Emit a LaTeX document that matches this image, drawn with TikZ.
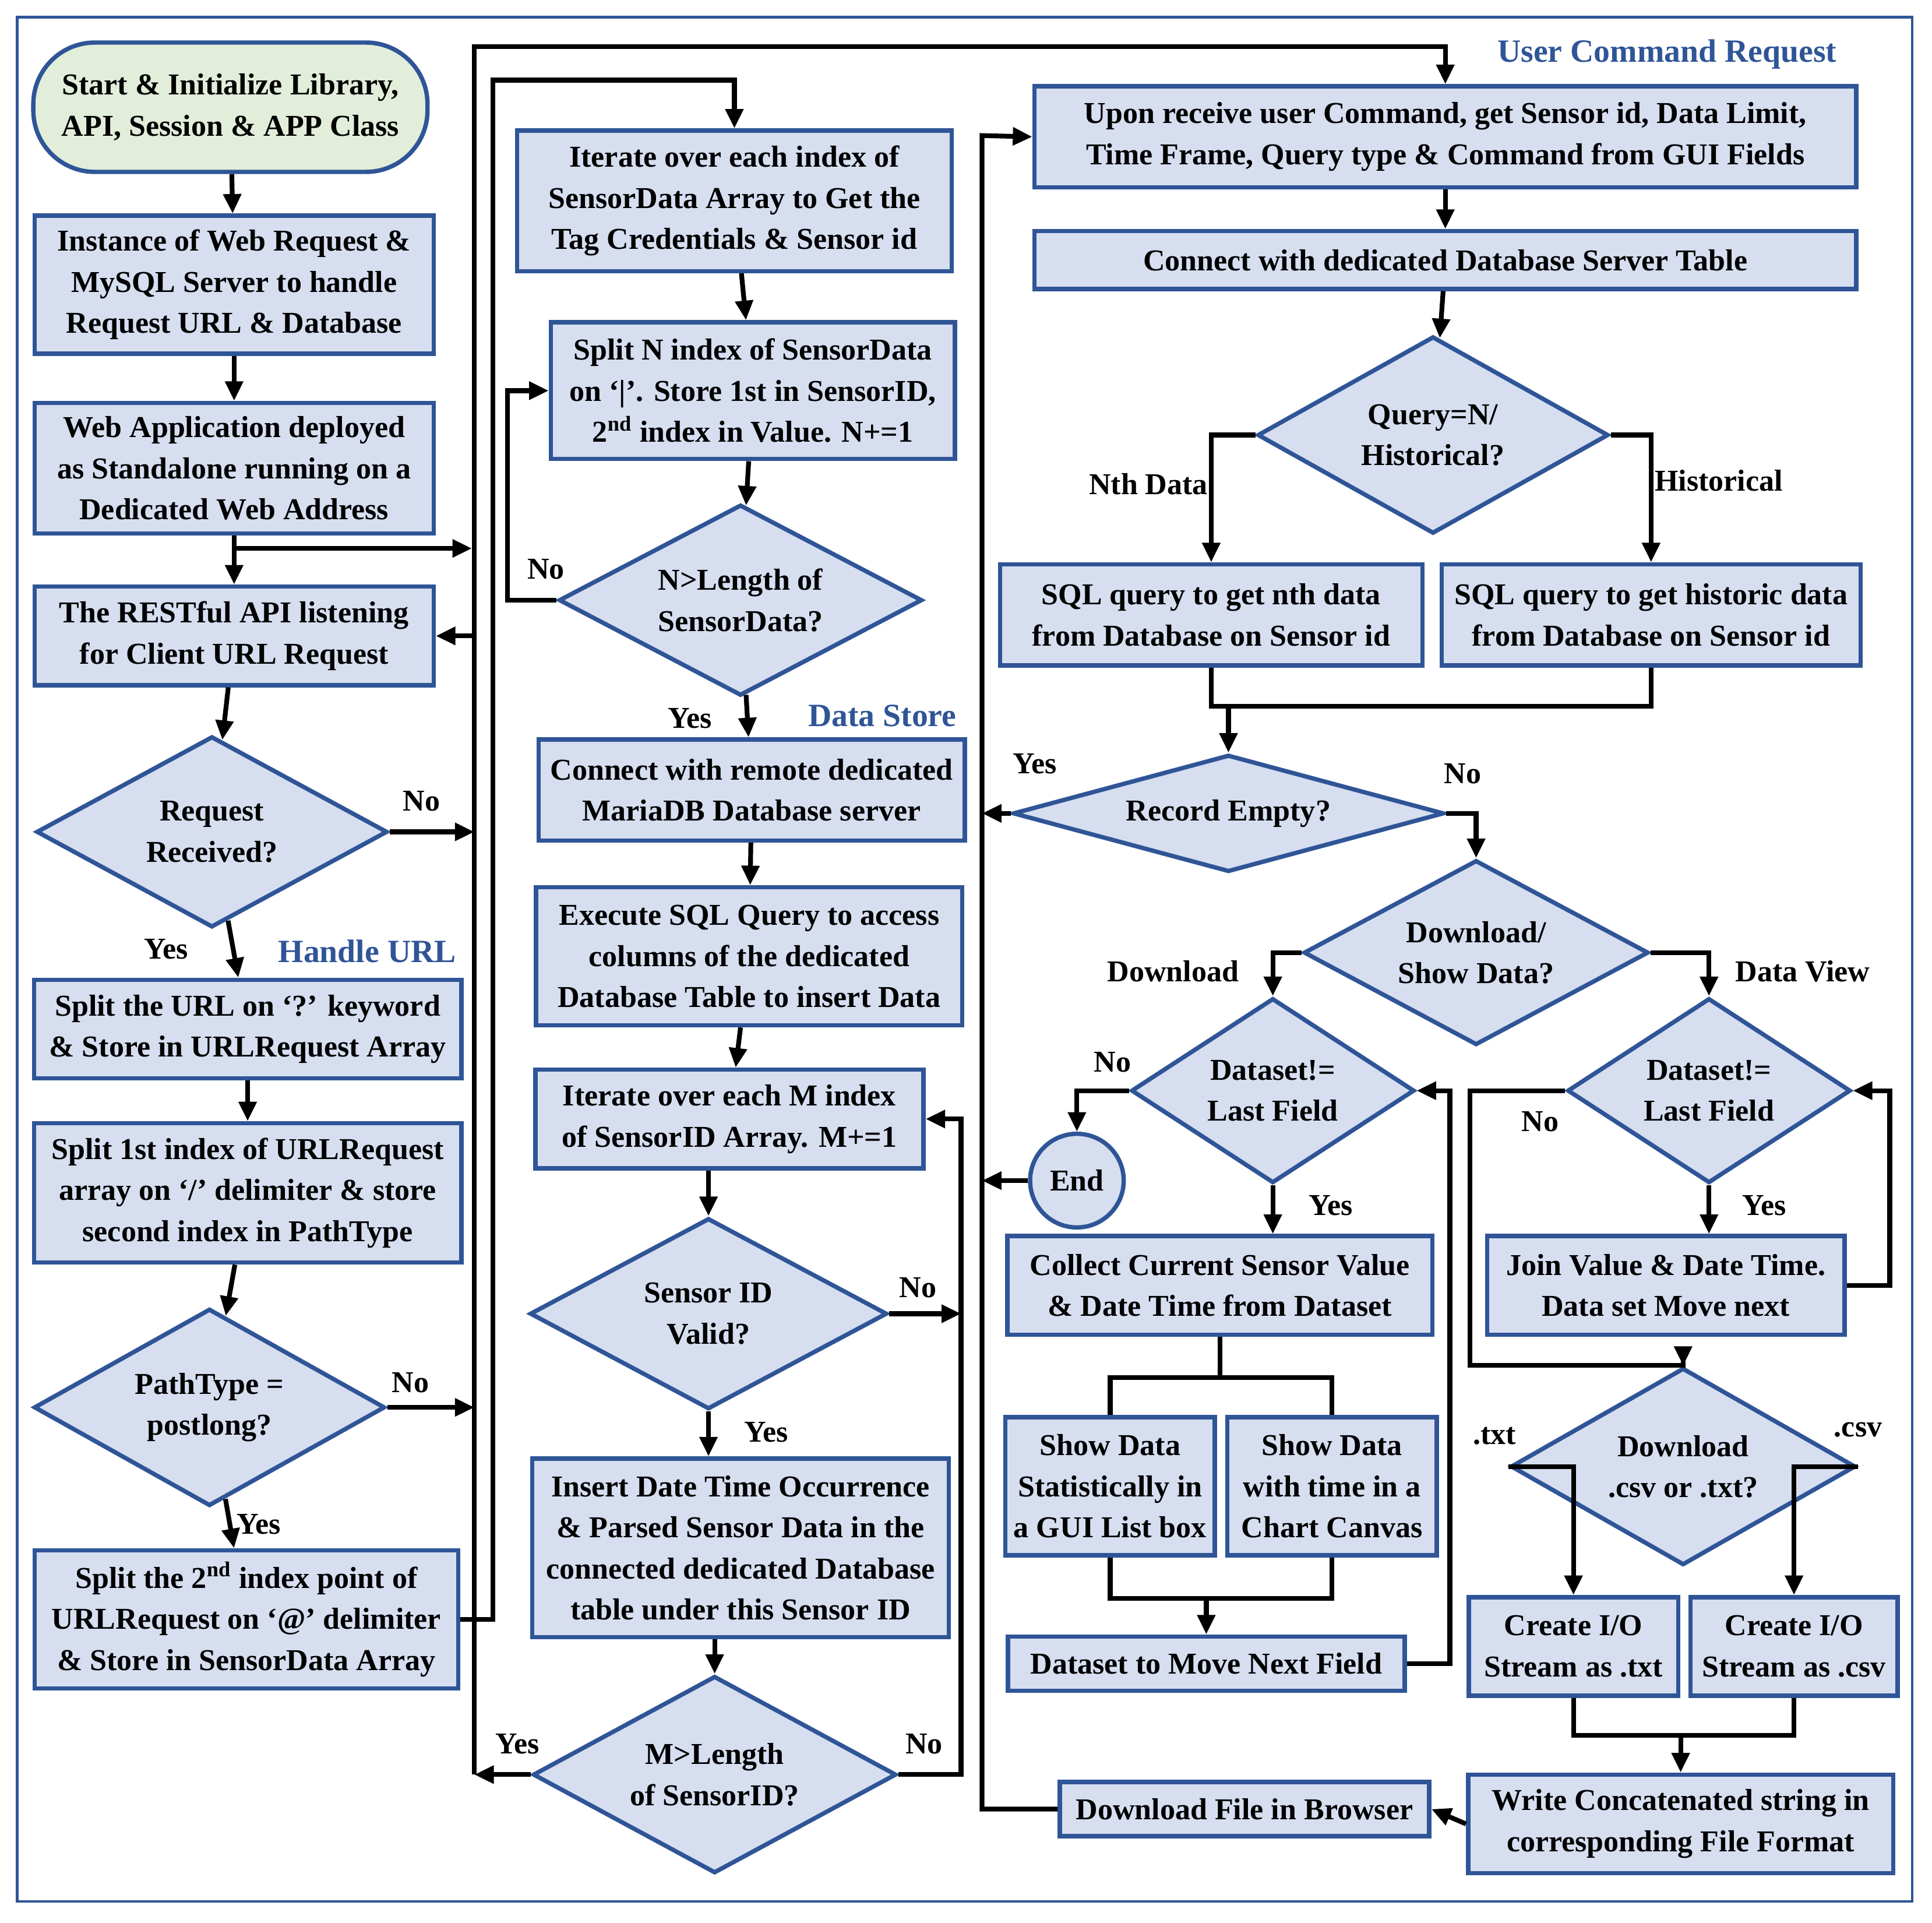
\documentclass[tikz,border=0pt]{standalone}
\usepackage{fontspec}
\setmainfont{Liberation Serif}
\usetikzlibrary{shapes.geometric,arrows.meta}
\definecolor{bblue}{RGB}{47,85,151}
\definecolor{bfill}{RGB}{214,222,240}
\definecolor{sfill}{RGB}{226,238,218}
\newcommand\fs{\fontsize{14}{19}\selectfont\bfseries}
\begin{document}
\begin{tikzpicture}[x=0.02cm,y=-0.02cm,
  box/.style={draw=bblue,fill=bfill,line width=2pt,align=center,inner sep=0pt,font=\fs},
  dia/.style={diamond,draw=bblue,fill=bfill,line width=2pt,align=center,inner sep=0pt,aspect=1.9,font=\fs},
  lab/.style={font=\fs},
  ttl/.style={font=\fontsize{15}{18}\selectfont\bfseries,text=bblue},
  line/.style={line width=2.2pt},
  arr/.style={line,-{Triangle[length=9pt,width=8pt]}}]
\useasboundingbox (0,0) rectangle (1568,1560);
\draw[bblue,line width=1.2pt] (14,14) rectangle (1552,1543);

% first column
\node[box,fill=sfill,rounded corners=1cm,minimum width=6.4cm,minimum height=2.1cm] (start) at (187,87) {Start \& Initialize Library,\\API, Session \& APP Class};
\node[box,minimum width=6.48cm,minimum height=2.24cm] (inst) at (190,231) {Instance of Web Request \&\\MySQL Server to handle\\Request URL \& Database};
\node[box,minimum width=6.48cm,minimum height=2.12cm] (web) at (190,380) {Web Application deployed\\as Standalone running on a\\Dedicated Web Address};
\node[box,minimum width=6.48cm,minimum height=1.6cm] (rest) at (190,516) {The RESTful API listening\\for Client URL Request};
\node[dia,minimum width=5.7cm,minimum height=3.1cm] (req) at (172,675) {Request\\Received?};
\node[box,minimum width=6.94cm,minimum height=1.6cm] (split1) at (201,835) {Split the URL on ‘?’ keyword\\\& Store in URLRequest Array};
\node[box,minimum width=6.94cm,minimum height=2.26cm] (split2) at (201,968) {Split 1st index of URLRequest\\array on ‘/’ delimiter \& store\\second index in PathType};
\node[dia,minimum width=5.7cm,minimum height=3.2cm] (path) at (170,1142) {PathType =\\postlong?};
\node[box,minimum width=6.88cm,minimum height=2.24cm] (split3) at (200,1314) {Split the 2\textsuperscript{nd} index point of\\URLRequest on ‘@’ delimiter\\\& Store in SensorData Array};

% second column
\node[box,minimum width=7.06cm,minimum height=2.28cm] (iter) at (596,163) {Iterate over each index of\\SensorData Array to Get the\\Tag Credentials \& Sensor id};
\node[box,minimum width=6.56cm,minimum height=2.22cm] (splitN) at (611,317) {Split N index of SensorData\\on ‘|’. Store 1st in SensorID,\\2\textsuperscript{nd} index in Value. N+=1};
\node[dia,minimum width=5.9cm,minimum height=3.1cm] (nlen) at (601,487) {N>Length of\\SensorData?};
\node[box,minimum width=6.92cm,minimum height=1.64cm] (conn) at (610,641) {Connect with remote dedicated\\MariaDB Database server};
\node[box,minimum width=6.92cm,minimum height=2.24cm] (exec) at (608,776) {Execute SQL Query to access\\columns of the dedicated\\Database Table to insert Data};
\node[box,minimum width=6.3cm,minimum height=1.6cm] (iterM) at (592,908) {Iterate over each M index\\of SensorID Array. M+=1};
\node[dia,minimum width=5.8cm,minimum height=3.1cm] (sid) at (575,1066) {Sensor ID\\Valid?};
\node[box,minimum width=6.76cm,minimum height=2.9cm] (insert) at (601,1256) {Insert Date Time Occurrence\\\& Parsed Sensor Data in the\\connected dedicated Database\\table under this Sensor ID};
\node[dia,minimum width=5.9cm,minimum height=3.2cm] (mlen) at (580,1440) {M>Length\\of SensorID?};

% third column
\node[box,minimum width=13.34cm,minimum height=1.64cm] (upon) at (1173,111) {Upon receive user Command, get Sensor id, Data Limit,\\Time Frame, Query type \& Command from GUI Fields};
\node[box,minimum width=13.34cm,minimum height=0.94cm] (connDB) at (1173,211) {Connect with dedicated Database Server Table};
\node[dia,minimum width=5.7cm,minimum height=3.2cm] (query) at (1163,353) {Query=N/\\Historical?};
\node[box,minimum width=6.86cm,minimum height=1.64cm] (sqln) at (983,499) {SQL query to get nth data\\from Database on Sensor id};
\node[box,minimum width=6.8cm,minimum height=1.64cm] (sqlh) at (1340,499) {SQL query to get historic data\\from Database on Sensor id};
\node[dia,minimum width=7cm,minimum height=1.9cm,aspect=3.5] (rec) at (997,660) {Record Empty?};
\node[dia,minimum width=5.6cm,minimum height=3cm] (dl) at (1198,773) {Download/\\Show Data?};
\node[dia,minimum width=4.6cm,minimum height=3cm,aspect=1.5] (ds1) at (1033,885) {Dataset!=\\Last Field};
\node[dia,minimum width=4.6cm,minimum height=3cm,aspect=1.5] (ds2) at (1387,885) {Dataset!=\\Last Field};
\node[circle,draw=bblue,fill=bfill,line width=2pt,minimum size=1.52cm,inner sep=0pt,font=\fs] (end) at (874,958) {End};
\node[box,minimum width=6.9cm,minimum height=1.6cm] (collect) at (990,1043) {Collect Current Sensor Value\\\& Date Time from Dataset};
\node[box,minimum width=3.4cm,minimum height=2.24cm] (showS) at (901,1206) {Show Data\\Statistically in\\a GUI List box};
\node[box,minimum width=3.4cm,minimum height=2.24cm] (showC) at (1081,1206) {Show Data\\with time in a\\Chart Canvas};
\node[box,minimum width=6.44cm,minimum height=0.88cm] (dsnext) at (979,1350) {Dataset to Move Next Field};
\node[box,minimum width=5.8cm,minimum height=1.6cm] (join) at (1352,1043) {Join Value \& Date Time.\\Data set Move next};
\node[dia,minimum width=5.6cm,minimum height=3.2cm] (dlcsv) at (1366,1190) {Download\\.csv or .txt?};
\node[box,minimum width=3.4cm,minimum height=1.6cm] (ctxt) at (1277,1336) {Create I/O\\Stream as .txt};
\node[box,minimum width=3.36cm,minimum height=1.6cm] (ccsv) at (1456,1336) {Create I/O\\Stream as .csv};
\node[box,minimum width=6.9cm,minimum height=1.6cm] (write) at (1364,1480) {Write Concatenated string in\\corresponding File Format};
\node[box,minimum width=6cm,minimum height=0.88cm] (dlb) at (1010,1468) {Download File in Browser};

% titles
\node[ttl] (tUser) at (1353,44) {User Command Request};
\node[ttl] (tStore) at (716,581) {Data Store};
\node[ttl] (tUrl) at (298,772) {Handle URL};

% bends
\coordinate (wb) at (383,445);
\coordinate (busA) at (385,38);
\coordinate (busB) at (385,1440);
\coordinate (loopA) at (400,65);
\coordinate (busC) at (797,110);
\coordinate (busD) at (780,908);
\coordinate (mj) at (997,573);
\coordinate (sj) at (997,1118);
\coordinate (sk) at (997,1297);
\coordinate (dk) at (1193,1108);
\coordinate (wk) at (1373,1408);

% first column connectors
\draw[arr] (start) -- (inst);
\draw[arr] (inst) -- (web);
\draw[arr] (web) -- (rest);
\draw[arr] (web.south |- wb) -- (wb);
\draw[arr] (rest) -- (req);
\draw[arr] (req) -- (split1);
\draw[arr] (req.east) -- (req.east -| busA);
\draw[arr] (split1) -- (split2);
\draw[arr] (split2) -- (path);
\draw[arr] (path) -- (split3);
\draw[arr] (path.east) -- (path.east -| busA);
\draw[arr] (busB) -- (busA) -| (upon.north);
\draw[arr] (busA |- rest.east) -- (rest.east);
\draw[arr] (mlen.west) -- (mlen.west -| busA);
\draw[arr] (split3.east) -| (loopA) -| (iter.north);

% second column connectors
\draw[arr] (iter) -- (splitN);
\draw[arr] (splitN) -- (nlen);
\draw[arr] (nlen.west) -- ++(-40,0) |- (splitN.west);
\draw[arr] (nlen) -- (conn);
\draw[arr] (conn) -- (exec);
\draw[arr] (exec) -- (iterM);
\draw[arr] (sid.north |- iterM.south) -- (sid.north);
\draw[arr] (sid.south) -- (sid.south |- insert.north);
\draw[arr] (mlen.north |- insert.south) -- (mlen.north);
\draw[arr] (sid.east) -- (sid.east -| busD);
\draw[arr] (mlen.east) -| (busD) -- (iterM.east);

% third column connectors
\draw[arr] (dlb.west) -| (busC) -- (upon.west);
\draw[arr] (upon) -- (connDB);
\draw[arr] (connDB) -- (query);
\draw[arr] (query.west) -| (sqln.north);
\draw[arr] (query.east) -| (sqlh.north);
\draw[line] (sqln.south) |- (mj) -| (sqlh.south);
\draw[arr] (mj) -- (rec.north);
\draw[arr] (rec.west) -- (rec.west -| busC);
\draw[arr] (rec.east) -| (dl.north);
\draw[arr] (dl.west) -| (ds1.north);
\draw[arr] (dl.east) -| (ds2.north);
\draw[arr] (ds1.west) -| (end.north);
\draw[arr] (end.west) -- (end.west -| busC);
\draw[arr] (ds1.south) -- (ds1.south |- collect.north);
\draw[line] (collect.south |- collect.south) -- (collect.south |- sj);
\draw[line] (showS.north) |- (sj) -| (showC.north);
\draw[line] (showS.south) |- (sk) -| (showC.south);
\draw[arr] (dsnext.north |- sk) -- (dsnext.north);
\draw[arr] (dsnext.east) -- ++(35,0) |- (ds1.east);
\draw[arr] (ds2.west) -| (dk) -| (dlcsv.north);
\draw[arr] (ds2.south) -- (ds2.south |- join.north);
\draw[arr] (join.east) -- ++(35,0) |- (ds2.east);
\draw[arr] (dlcsv.west) -| (ctxt.north);
\draw[arr] (dlcsv.east) -| (ccsv.north);
\draw[line] (ctxt.south) |- (wk) -| (ccsv.south);
\draw[arr] (write.north |- wk) -- (write.north);
\draw[arr] (write.west) -- (dlb.east);

% branch labels
\node[lab] (yReq) at (135,770) {Yes};
\node[lab] (nReq) at (342,650) {No};
\node[lab] (nPath) at (333,1122) {No};
\node[lab] (yPath) at (210,1237) {Yes};
\node[lab] (nN) at (443,462) {No};
\node[lab] (yN) at (560,583) {Yes};
\node[lab] (nSid) at (745,1045) {No};
\node[lab] (ySid) at (622,1162) {Yes};
\node[lab] (yM) at (420,1415) {Yes};
\node[lab] (nM) at (750,1415) {No};
\node[lab] (lNth) at (932,393) {Nth Data};
\node[lab] (lHist) at (1395,390) {Historical};
\node[lab] (yRec) at (840,620) {Yes};
\node[lab] (nRec) at (1187,628) {No};
\node[lab] (lDl) at (952,788) {Download};
\node[lab] (lView) at (1463,788) {Data View};
\node[lab] (nDs1) at (903,862) {No};
\node[lab] (yDs1) at (1080,978) {Yes};
\node[lab] (nDs2) at (1250,910) {No};
\node[lab] (yDs2) at (1432,978) {Yes};
\node[lab] (lTxt) at (1213,1165) {.txt};
\node[lab] (lCsv) at (1508,1160) {.csv};
\end{tikzpicture}
\end{document}
